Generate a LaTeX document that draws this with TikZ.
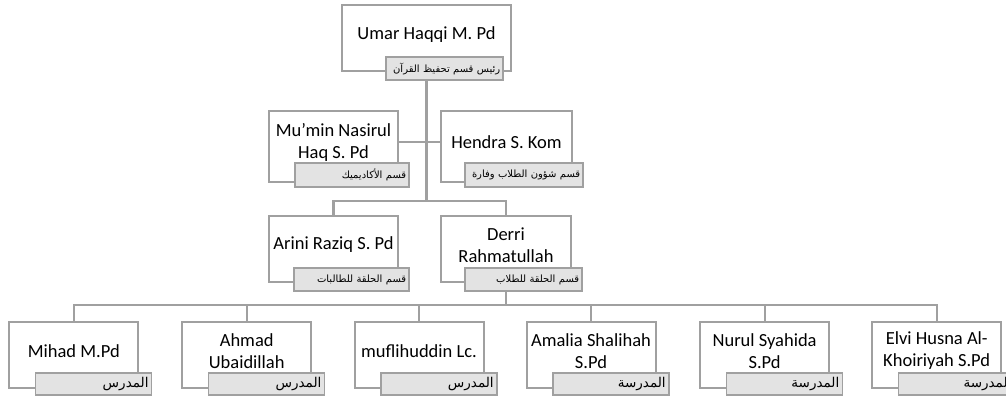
\documentclass[tikz,border=0pt]{standalone}
\usepackage{fontspec}
\setmainfont{Carlito}
\newfontfamily\arabicfont[Script=Arabic]{DejaVu Sans}
\TeXXeTstate=1
\usetikzlibrary{backgrounds}
\definecolor{linegray}{HTML}{A0A0A0}
\definecolor{rolefill}{HTML}{E3E3E3}

\begin{document}
\begin{tikzpicture}[x=1pt,y=-1pt,
	staffbox/.style={draw=linegray,line width=2pt,fill=white,minimum width=129pt,minimum height=66pt,inner sep=0pt},
	staffname/.style={align=center,font=\fontsize{18.5}{22}\selectfont,inner sep=0pt},
	rolebox/.style={draw=linegray,line width=1.6pt,fill=rolefill,minimum height=23pt,text width=110pt,inner xsep=3pt,inner ysep=0pt,align=right,font=\arabicfont\fontsize{10}{12}\selectfont,anchor=south east},
	teacherrole/.style={rolebox,minimum height=22pt,font=\arabicfont\fontsize{13.5}{15}\selectfont},
	link/.style={draw=linegray,line width=2.2pt}]

		\useasboundingbox (0,0) rectangle (1006,398);

		\node[staffbox,minimum width=169pt] (umar) at (426.5,38) {};
		\node[staffname] (umarname) at ([yshift=3.5pt]umar.center) {Umar Haqqi M. Pd};
		\node[rolebox,text width=111pt] (umarrole) at ([xshift=-8pt,yshift=-9pt]umar.south east) {\beginR رئيس قسم تحفيظ القرآن\endR};

		\node[staffbox,minimum height=71pt] (mumin) at (333.5,146.5) {};
		\node[staffname] (muminname) at ([yshift=4pt]mumin.center) {Mu’min Nasirul\\Haq S. Pd};
		\node[rolebox,minimum height=24pt,text width=108pt] (muminrole) at ([xshift=11pt,yshift=-5pt]mumin.south east) {\beginR قسم الأكاديميك\endR};

		\node[staffbox,minimum width=131pt,minimum height=71pt] (hendra) at (506.5,146.5) {};
		\node[staffname] (hendraname) at ([yshift=4pt]hendra.center) {Hendra S. Kom};
		\node[rolebox,minimum height=24pt,text width=112pt] (hendrarole) at ([xshift=11pt,yshift=-5pt]hendra.south east) {\beginR قسم شؤون الطلاب وفارة\endR};

		\node[staffbox] (arini) at (333.5,249) {};
		\node[staffname] (arininame) at ([yshift=4pt]arini.center) {Arini Raziq S. Pd};
		\node[rolebox,text width=109pt] (arinirole) at ([xshift=11pt,yshift=-9pt]arini.south east) {\beginR قسم الحلقة للطالبات\endR};

		\node[staffbox,minimum width=130pt] (derri) at (506,249) {};
		\node[staffname] (derriname) at ([yshift=4pt]derri.center) {Derri\\Rahmatullah};
		\node[rolebox,text width=111pt] (derrirole) at ([xshift=11pt,yshift=-9pt]derri.south east) {\beginR قسم الحلقة للطلاب\endR};

		\node[staffbox] (mihad) at (73.8,355) {};
		\node[staffname] (mihadname) at ([yshift=4pt]mihad.center) {Mihad M.Pd};
		\node[teacherrole] (mihadrole) at ([xshift=13pt,yshift=-7pt]mihad.south east) {\beginR المدرس\endR};

		\node[staffbox] (ahmad) at (246.7,355) {};
		\node[staffname] (ahmadname) at ([yshift=4pt]ahmad.center) {Ahmad\\Ubaidillah};
		\node[teacherrole] (ahmadrole) at ([xshift=13pt,yshift=-7pt]ahmad.south east) {\beginR المدرس\endR};

		\node[staffbox] (mufli) at (419,355) {};
		\node[staffname] (mufliname) at ([yshift=4pt]mufli.center) {muflihuddin Lc.};
		\node[teacherrole] (muflirole) at ([xshift=13pt,yshift=-7pt]mufli.south east) {\beginR المدرس\endR};

		\node[staffbox] (amalia) at (591,355) {};
		\node[staffname] (amalianame) at ([yshift=4pt]amalia.center) {Amalia Shalihah\\S.Pd};
		\node[teacherrole] (amaliarole) at ([xshift=13pt,yshift=-7pt]amalia.south east) {\beginR المدرسة\endR};

		\node[staffbox] (nurul) at (764.6,355) {};
		\node[staffname] (nurulname) at ([yshift=4pt]nurul.center) {Nurul Syahida\\S.Pd};
		\node[teacherrole] (nurulrole) at ([xshift=13pt,yshift=-7pt]nurul.south east) {\beginR المدرسة\endR};

		\node[staffbox] (elvi) at (936.7,355) {};
		\node[staffname] (elviname) at ([yshift=4pt]elvi.center) {Elvi Husna Al-\\Khoiriyah S.Pd};
		\node[teacherrole] (elvirole) at ([xshift=13pt,yshift=-7pt]elvi.south east) {\beginR المدرسة\endR};

		\begin{scope}[on background layer]
		\coordinate (split1) at (426.5,201);
		\coordinate (split2) at (506,305);
		\draw[link] (umar.south) -- (split1);
		\draw[link] ([yshift=4.5pt]mumin.east) -- ([yshift=4.5pt]hendra.west);
		\draw[link] (arini.north) |- (split1);
		\draw[link] (derri.north) |- (split1);
		\draw[link] (derri.south) -- (split2);
		\foreach \n in {mihad,ahmad,mufli,amalia,nurul,elvi}
			\draw[link] (\n.north) |- (split2);
		\end{scope}

	\end{tikzpicture}
\end{document}
